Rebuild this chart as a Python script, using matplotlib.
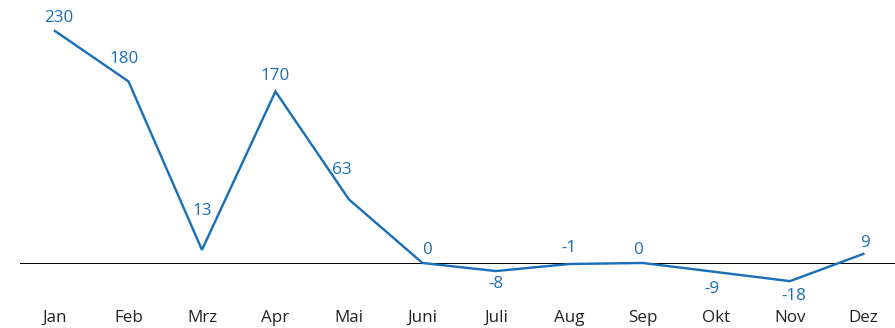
import matplotlib
matplotlib.use("Agg")
import matplotlib.pyplot as plt

# Datos
meses = ['Jan', 'Feb', 'Mrz', 'Apr', 'Mai', 'Juni', 'Juli', 'Aug', 'Sep', 'Okt', 'Nov', 'Dez']
valores = [230, 180, 13, 170, 63, 0, -8, -1, 0, -9, -18, 9]

# desplazamiento de cada etiqueta respecto a su punto (en px)
desplaz_x = [4, -4, 0, 0, -7, 5, 0, 0, -5, -4, 4, 2]
desplaz_y = [13, 22, 39, 16, 29, 13, -13, 16, 13, -17, -15, 11]

azul = '#1a6fb8'
plt.rcParams['font.family'] = ['Open Sans', 'DejaVu Sans']

dpi = 72
fig = plt.figure(figsize=(895 / dpi, 328 / dpi), dpi=dpi)
ax = fig.add_axes([20 / 895, 28 / 328, 875 / 895, 290 / 328])

x = list(range(len(meses)))
ax.plot(x, valores, color=azul, linewidth=2.4, solid_joinstyle='miter')
ax.axhline(0, color='black', linewidth=1, zorder=0)

for i, v in enumerate(valores):
    ax.annotate(str(v), (i, v), xytext=(desplaz_x[i], desplaz_y[i]), textcoords='offset points',
                ha='center', va='center', color=azul, fontsize=17)

ax.set_xlim(-0.476, 11.43)
ax.set_ylim(-36.7, 250.8)
ax.set_xticks(x)
ax.set_xticklabels(meses, fontsize=17, color='#222222')
ax.tick_params(axis='x', length=0, pad=10)
ax.set_yticks([])
for s in ax.spines.values():
    s.set_visible(False)

fig.savefig('out.png', dpi=dpi, facecolor='white')
plt.close(fig)
